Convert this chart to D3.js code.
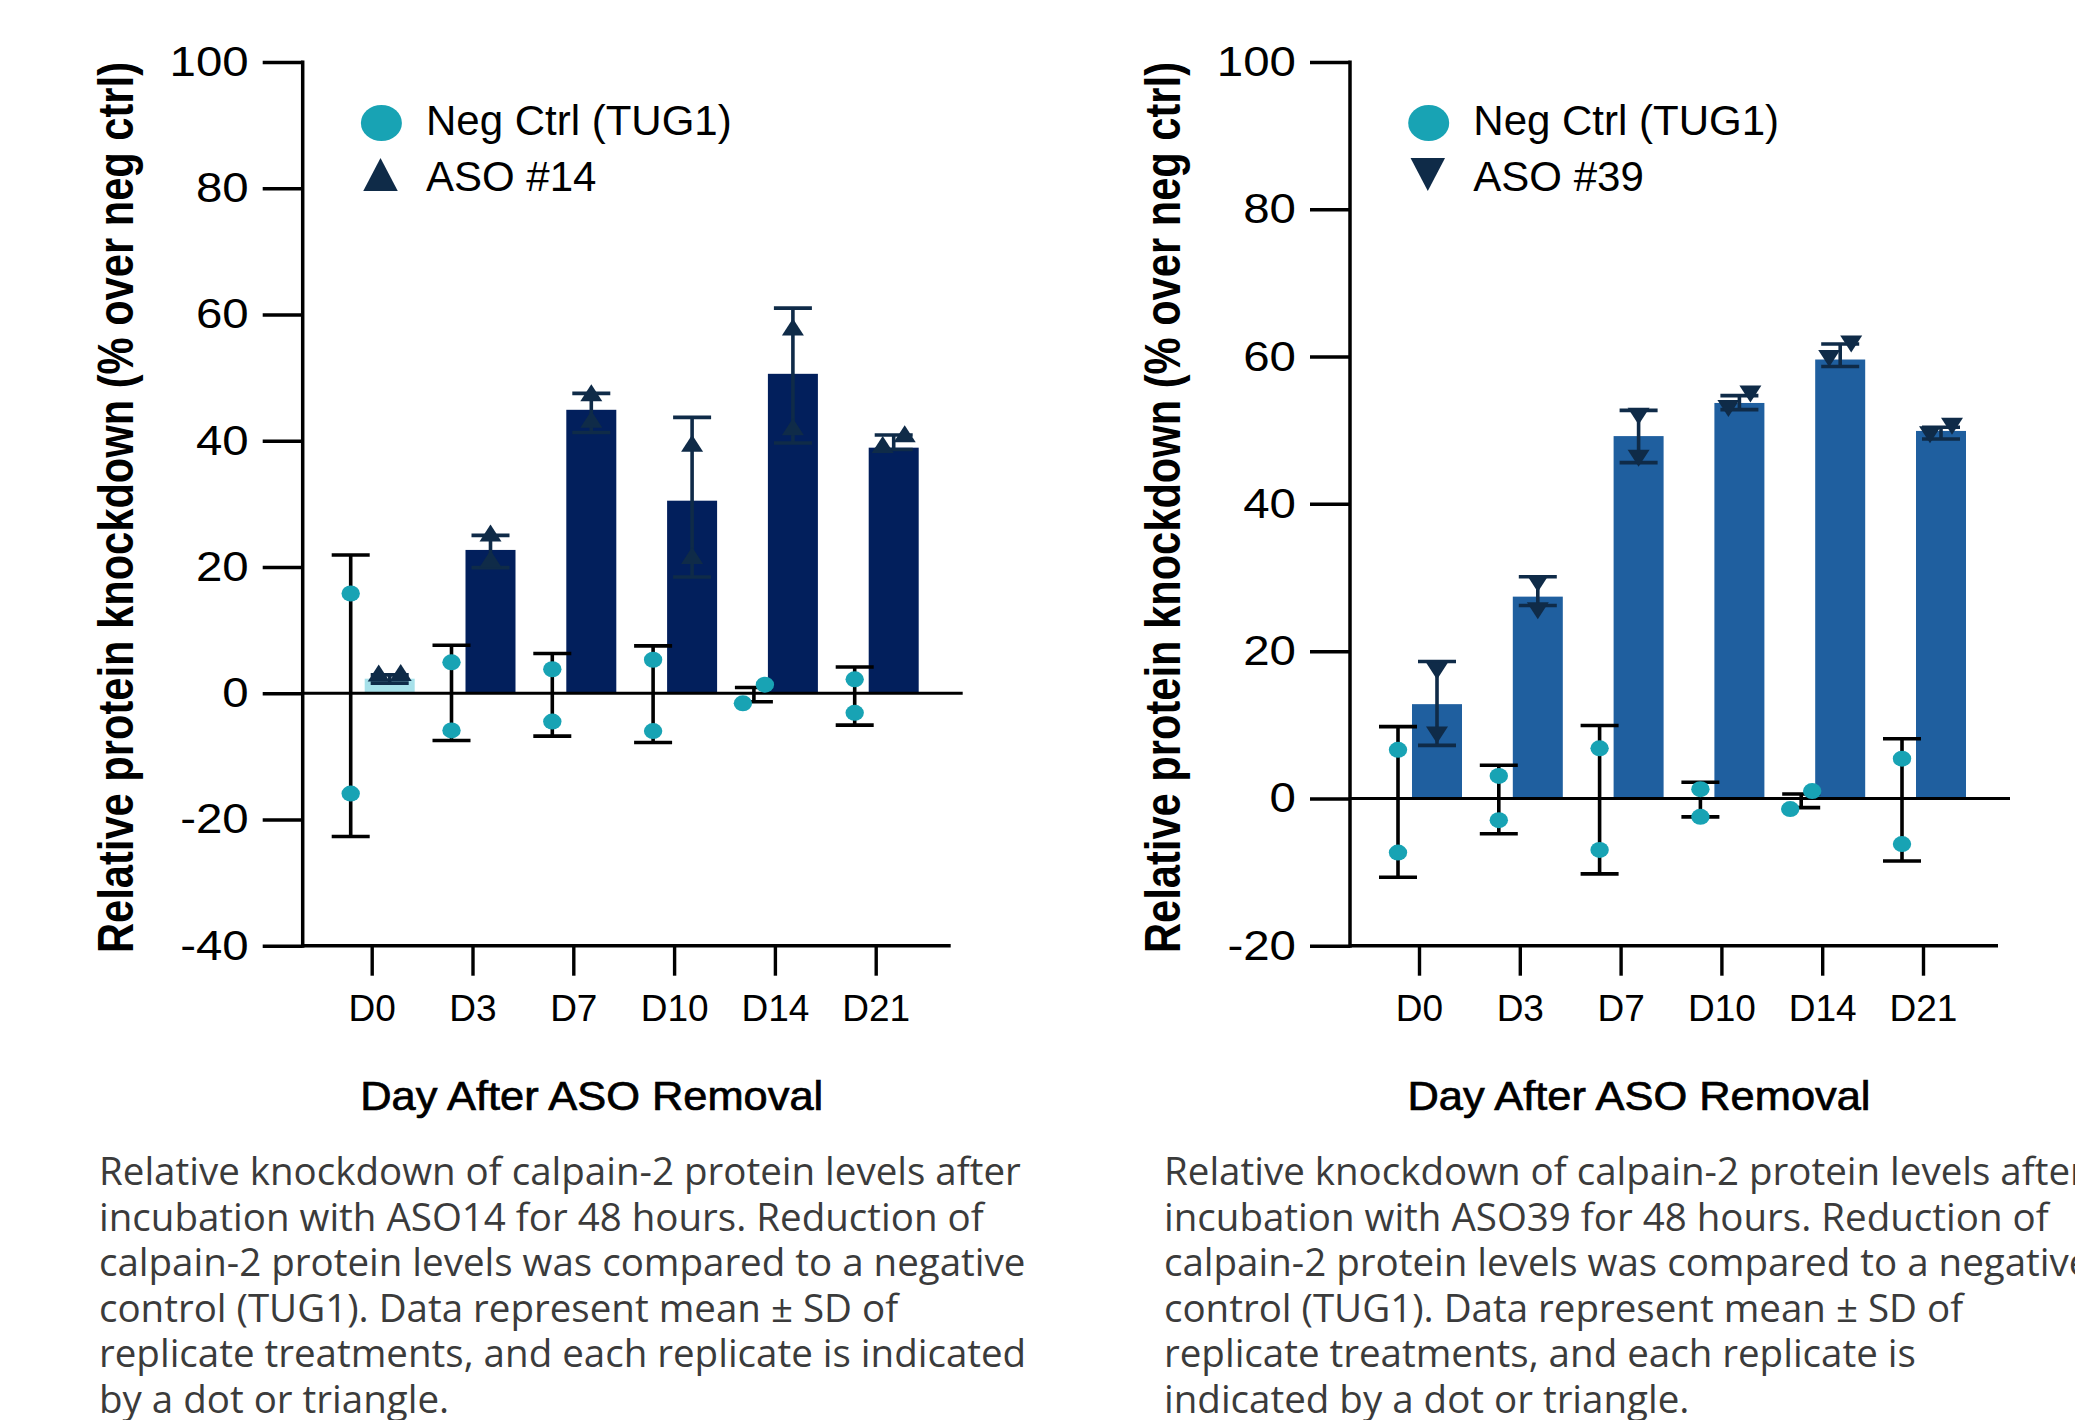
<!DOCTYPE html>
<html>
<head>
<meta charset="utf-8">
<script src="https://cdn.jsdelivr.net/npm/d3@7"></script>
<style>
  html, body { margin: 0; padding: 0; background: #fff; }
  svg { display: block; }
  text { font-family: "Liberation Sans", Arial, sans-serif; }
  .caption { font-family: "Open Sans", sans-serif; fill: #3b3b3b; font-size: 38.5px; }
</style>
</head>
<body>
<svg id="chart" width="2075" height="1420"></svg>
<script>
const days = ["D0", "D3", "D7", "D10", "D14", "D21"];

// ASO #14 panel
const neg14Reps = [[15.8, -15.9], [4.9, -5.9], [3.8, -4.5], [5.3, -6.0], [1.35, -1.6], [2.2, -3.1]];
const neg14Hi = [21.9, 7.6, 6.3, 7.5, 0.9, 4.15];
const neg14Lo = [-22.7, -7.5, -6.8, -7.8, -1.35, -5.05];
const aso14Mean = [2.3, 22.7, 44.9, 30.5, 50.6, 38.9];
const aso14Hi = [2.9, 25.0, 47.5, 43.7, 61.0, 40.9];
const aso14Lo = [1.6, 19.9, 41.3, 18.4, 39.65, 38.6];
const aso14Reps = [[3.3, 3.2], [25.4, 21.3], [47.6, 43.4], [39.6, 21.8], [58.0, 42.2], [39.4, 41.1]];

// ASO #39 panel
const neg39Reps = [[6.6, -7.35], [3.05, -2.95], [6.8, -7.0], [1.25, -2.5], [1.0, -1.45], [5.4, -6.2]];
const neg39Hi = [9.75, 4.5, 9.9, 2.2, 0.6, 8.1];
const neg39Lo = [-10.7, -4.8, -10.25, -2.5, -1.25, -8.5];
const aso39Mean = [12.8, 27.4, 49.2, 53.7, 59.6, 49.9];
const aso39Hi = [18.6, 30.1, 52.7, 54.7, 61.7, 50.4];
const aso39Lo = [7.2, 26.2, 45.6, 52.8, 58.65, 48.8];
const aso39Reps = [[17.3, 8.6], [29.2, 25.5], [51.9, 46.2], [52.95, 54.9], [59.75, 61.7], [49.4, 50.55]];

const ticks14 = [-40, -20, 0, 20, 40, 60, 80, 100];
const ticks39 = [-20, 0, 20, 40, 60, 80, 100];

const caption14 = [
    "Relative knockdown of calpain-2 protein levels after",
    "incubation with ASO14 for 48 hours. Reduction of",
    "calpain-2 protein levels was compared to a negative",
    "control (TUG1). Data represent mean \u00b1 SD of",
    "replicate treatments, and each replicate is indicated",
    "by a dot or triangle."
];
const caption39 = [
    "Relative knockdown of calpain-2 protein levels after",
    "incubation with ASO39 for 48 hours. Reduction of",
    "calpain-2 protein levels was compared to a negative",
    "control (TUG1). Data represent mean \u00b1 SD of",
    "replicate treatments, and each replicate is",
    "indicated by a dot or triangle."
];

// settings
const teal = "#18a3b4";
const navy = "#0f2b48";
const yTop = 62;
const yBottom = 945.7;
const negOffset = -21;
const asoOffset = 18;
const barWidth = 50;
const capHalf = 19;
const jitter = 11;

const panels = [
    {
        axisX: 302.7, captionX: 99, yDomain: [-40, 100], ticks: ticks14, label: "ASO #14", dir: "up",
        barColor: "#021f5c", firstBarColor: "#a7e1ea",
        negReps: neg14Reps, negHi: neg14Hi, negLo: neg14Lo,
        asoMean: aso14Mean, asoHi: aso14Hi, asoLo: aso14Lo, asoReps: aso14Reps, caption: caption14
    },
    {
        axisX: 1350, captionX: 1164, yDomain: [-20, 100], ticks: ticks39, label: "ASO #39", dir: "down",
        barColor: "#1f5f9f", firstBarColor: "#1f5f9f",
        negReps: neg39Reps, negHi: neg39Hi, negLo: neg39Lo,
        asoMean: aso39Mean, asoHi: aso39Hi, asoLo: aso39Lo, asoReps: aso39Reps, caption: caption39
    }
];

const svg = d3.select("#chart");
panels.forEach(p => drawPanel(p));

function triPath(cx, cy, w, h, dir) {
    const s = dir === "up" ? 1 : -1;
    return `M${cx - w / 2},${cy + s * h / 2}L${cx + w / 2},${cy + s * h / 2}L${cx},${cy - s * h / 2}Z`;
}

function drawPanel(p) {
    const g = svg.append("g");
    const y = d3.scaleLinear().domain(p.yDomain).range([yBottom, yTop]);
    const x = d3.scalePoint().domain(days).range([p.axisX + 69, p.axisX + 573]);

    // bars
    g.selectAll(".bar").data(days).join("rect")
        .attr("class", "bar")
        .attr("x", d => x(d) + asoOffset - barWidth / 2)
        .attr("y", (d, i) => y(p.asoMean[i]))
        .attr("width", barWidth)
        .attr("height", (d, i) => y(0) - y(p.asoMean[i]))
        .attr("fill", (d, i) => i === 0 ? p.firstBarColor : p.barColor);

    // zero line
    g.append("line")
        .attr("x1", p.axisX).attr("x2", p.axisX + 660)
        .attr("y1", y(0)).attr("y2", y(0))
        .attr("stroke", "#000").attr("stroke-width", 3);

    // error bars
    function errorBars(cls, offset, hi, lo, color) {
        const eb = g.selectAll("." + cls).data(days).join("g").attr("class", cls)
            .attr("stroke", color).attr("stroke-width", 3.6);
        eb.append("line")
            .attr("x1", d => x(d) + offset).attr("x2", d => x(d) + offset)
            .attr("y1", (d, i) => y(hi[i])).attr("y2", (d, i) => y(lo[i]));
        [hi, lo].forEach(arr => {
            eb.append("line")
                .attr("x1", d => x(d) + offset - capHalf).attr("x2", d => x(d) + offset + capHalf)
                .attr("y1", (d, i) => y(arr[i])).attr("y2", (d, i) => y(arr[i]));
        });
    }
    errorBars("err-aso", asoOffset, p.asoHi, p.asoLo, navy);
    errorBars("err-neg", negOffset, p.negHi, p.negLo, "#000");

    // replicate positions, spread sideways when they would overlap
    function spread(reps, cx) {
        const py = reps.map(v => y(v));
        if (Math.abs(py[0] - py[1]) < 20) {
            const side = reps[0] <= reps[1] ? [-1, 1] : [1, -1];
            return reps.map((v, k) => ({ x: cx + side[k] * jitter, y: py[k] }));
        }
        return reps.map((v, k) => ({ x: cx, y: py[k] }));
    }
    const asoPts = days.flatMap((d, i) => spread(p.asoReps[i], x(d) + asoOffset));
    const negPts = days.flatMap((d, i) => spread(p.negReps[i], x(d) + negOffset));

    g.selectAll(".tri").data(asoPts).join("path")
        .attr("class", "tri")
        .attr("d", d => triPath(d.x, d.y, 22, 17, p.dir))
        .attr("fill", navy);
    g.selectAll(".dot").data(negPts).join("ellipse")
        .attr("class", "dot")
        .attr("cx", d => d.x).attr("cy", d => d.y)
        .attr("rx", 9.2).attr("ry", 8)
        .attr("fill", teal);

    // y axis
    g.append("g")
        .attr("transform", `translate(${p.axisX},0)`)
        .call(d3.axisLeft(y).tickValues(p.ticks).tickSize(40).tickPadding(14).tickSizeOuter(0).tickFormat(d => String(d)))
        .call(a => a.select(".domain").attr("stroke-width", 3.5).attr("d", `M0,${yBottom + 2}V${yTop - 1.5}`))
        .call(a => a.selectAll(".tick line").attr("stroke-width", 3.5))
        .call(a => a.selectAll(".tick text")
            .attr("x", 0)
            .attr("transform", "translate(-54,0) scale(1.13,1)")
            .attr("font-size", 42)
            .attr("font-family", "Liberation Sans, Arial, sans-serif")
            .attr("fill", "#000"));

    // x axis
    g.append("line")
        .attr("x1", p.axisX).attr("x2", p.axisX + 648)
        .attr("y1", yBottom).attr("y2", yBottom)
        .attr("stroke", "#000").attr("stroke-width", 3.5);
    g.append("g")
        .attr("transform", `translate(0,${yBottom})`)
        .call(d3.axisBottom(x).tickSize(30).tickPadding(19).tickSizeOuter(0))
        .call(a => a.select(".domain").remove())
        .call(a => a.selectAll(".tick line").attr("stroke-width", 3.4))
        .call(a => a.selectAll(".tick text")
            .attr("font-size", 37)
            .attr("font-family", "Liberation Sans, Arial, sans-serif")
            .attr("fill", "#000"));

    // axis titles
    g.append("text")
        .attr("x", p.axisX + 289).attr("y", 1110)
        .attr("text-anchor", "middle")
        .attr("font-size", 40)
        .attr("textLength", 463).attr("lengthAdjust", "spacingAndGlyphs")
        .attr("stroke", "#000").attr("stroke-width", 0.7)
        .text("Day After ASO Removal");
    g.append("text")
        .attr("transform", `translate(${p.axisX - 169.7},507.5) rotate(-90) scale(1,1.2)`)
        .attr("text-anchor", "middle")
        .attr("font-size", 42)
        .attr("font-weight", "bold")
        .attr("textLength", 891).attr("lengthAdjust", "spacingAndGlyphs")
        .text("Relative protein knockdown (% over neg ctrl)");

    // legend
    g.append("ellipse")
        .attr("cx", p.axisX + 78.7).attr("cy", 123)
        .attr("rx", 20.5).attr("ry", 18)
        .attr("fill", teal);
    g.append("path")
        .attr("d", triPath(p.axisX + 77.8, 174.6, 34.5, 33, p.dir))
        .attr("fill", navy);
    g.append("text")
        .attr("x", p.axisX + 123.3).attr("y", 135)
        .attr("font-size", 42)
        .text("Neg Ctrl (TUG1)");
    g.append("text")
        .attr("x", p.axisX + 123.3).attr("y", 191)
        .attr("font-size", 42)
        .text(p.label);

    // caption
    g.append("g").selectAll("text").data(p.caption).join("text")
        .attr("class", "caption")
        .attr("x", p.captionX)
        .attr("y", (d, i) => 1185 + i * 45.6)
        .text(d => d);
}
</script>
</body>
</html>
